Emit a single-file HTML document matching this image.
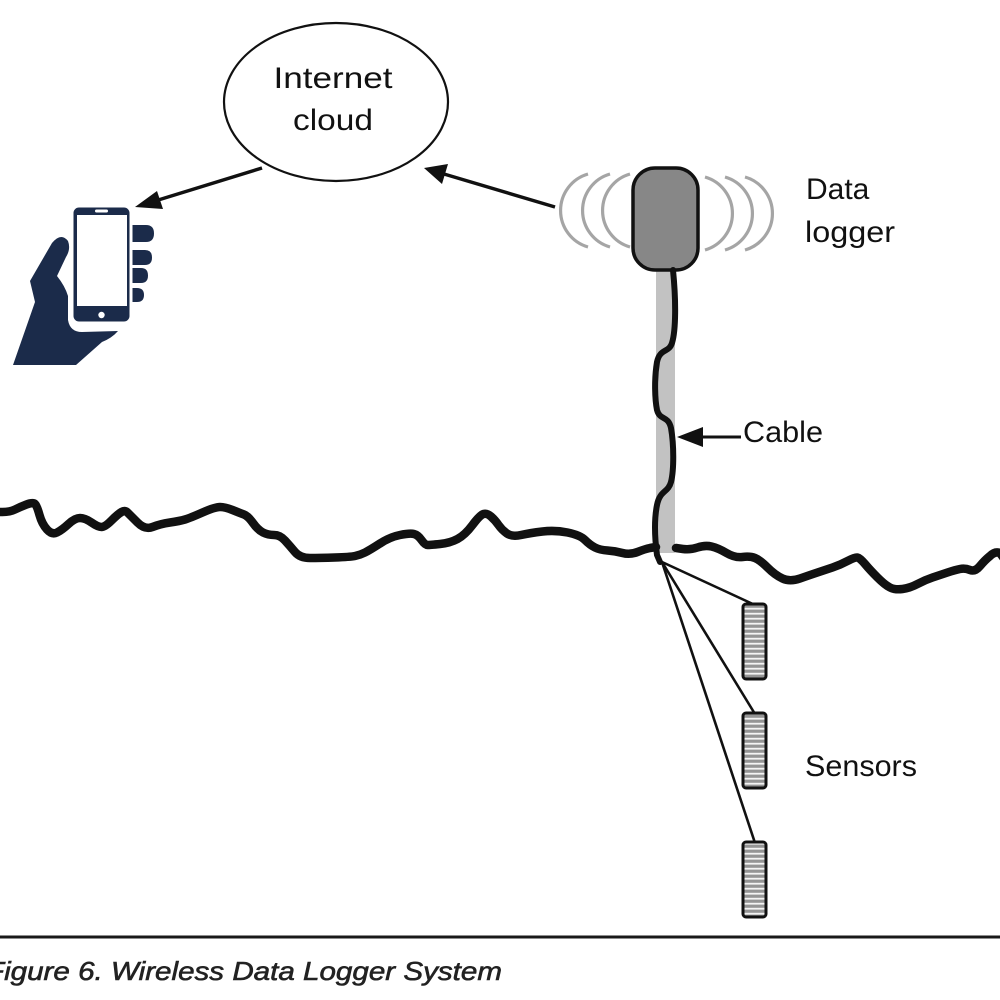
<!DOCTYPE html>
<html>
<head>
<meta charset="utf-8">
<style>
html,body{margin:0;padding:0;background:#fff;}
body{width:1000px;height:1000px;overflow:hidden;}
svg{display:block;}
text{font-family:"Liberation Sans",sans-serif;fill:#111;}
</style>
</head>
<body>
<svg width="1000" height="1000" viewBox="0 0 1000 1000" xmlns="http://www.w3.org/2000/svg">
<defs>
  <pattern id="stripes" x="0" y="0" width="10" height="5" patternUnits="userSpaceOnUse">
    <rect x="0" y="0" width="10" height="5" fill="#959595"/>
    <rect x="0" y="2.8" width="10" height="1.8" fill="#f4f4f4"/>
  </pattern>
</defs>

<!-- Internet cloud ellipse -->
<ellipse cx="336" cy="102" rx="112" ry="79" fill="#fff" stroke="#111" stroke-width="2.2"/>
<text x="333" y="88" font-size="30" text-anchor="middle" textLength="119" lengthAdjust="spacingAndGlyphs">Internet</text>
<text x="333" y="130" font-size="30" text-anchor="middle" textLength="80" lengthAdjust="spacingAndGlyphs">cloud</text>

<!-- Arrow cloud -> phone -->
<line x1="262" y1="168" x2="155" y2="201" stroke="#111" stroke-width="3.5"/>
<polygon points="135,207 157,191 163,209" fill="#111"/>

<!-- Arrow logger -> cloud -->
<line x1="555" y1="207" x2="444" y2="174" stroke="#111" stroke-width="3.5"/>
<polygon points="424,168 448,164 442,184" fill="#111"/>

<!-- Phone in hand -->
<g fill="#1b2b4a">
  <path d="M13,365 L35,302 L30,281 L52,243 Q61,232 68,241 Q71,249 66,257 L57,276 Q65,286 68,296 L68,320 Q70,332 82,332 L118,331 Q112,338 102,342 L76,365 Z"/>
  <path d="M129,225 L146,225 Q154,225 154,233.5 Q154,242 146,242 L129,242 Z"/>
  <path d="M129,250 L145,250 Q152,250 152,257.5 Q152,265 145,265 L129,265 Z"/>
  <path d="M129,268 L141,268 Q148,268 148,275.5 Q148,283 141,283 L129,283 Z"/>
  <path d="M129,288 L137,288 Q144,288 144,295 Q144,302 137,302 L129,302 Z"/>
  <rect x="72" y="206" width="59" height="117" rx="7" ry="7" stroke="#fff" stroke-width="3"/>
</g>
<rect x="77" y="215" width="50" height="91" fill="#fff"/>
<rect x="95" y="209.5" width="13" height="3" rx="1.5" fill="#fff"/>
<circle cx="101.5" cy="315" r="3.2" fill="#fff"/>

<!-- Signal arcs -->
<g fill="none" stroke="#a5a5a5" stroke-width="3.2">
  <path d="M588,174 A38,38 0 0 0 588,247"/>
  <path d="M610,174 A38,38 0 0 0 610,247"/>
  <path d="M630,174 A38,38 0 0 0 630,247"/>
  <path d="M705,177 A38,38 0 0 1 705,250"/>
  <path d="M725,177 A38,38 0 0 1 725,250"/>
  <path d="M745,177 A38,38 0 0 1 745,250"/>
</g>

<!-- gray cable sheath -->
<rect x="656" y="268" width="19" height="285" fill="#c2c2c2"/>

<!-- Data logger body -->
<rect x="633" y="168" width="65" height="102" rx="22" ry="22" fill="#878787" stroke="#111" stroke-width="3.5"/>
<text x="806" y="199" font-size="30">Data</text>
<text x="805" y="242" font-size="30" textLength="90" lengthAdjust="spacingAndGlyphs">logger</text>

<!-- Cable -->
<path d="M673,270 C676,300 676,330 672,343 C669,353 660,348 657,362 C654,380 655,400 657,410 C660,421 668,415 671,428 C674,445 674,470 671,482 C668,493 660,490 657,505 C654,520 655,540 657,555 L660,562" fill="none" stroke="#111" stroke-width="6" stroke-linecap="round" stroke-linejoin="round"/>

<!-- Cable label arrow -->
<line x1="741" y1="437" x2="700" y2="437" stroke="#111" stroke-width="3"/>
<polygon points="677,437 703,427 703,447" fill="#111"/>
<text x="743" y="442" font-size="30" textLength="80" lengthAdjust="spacingAndGlyphs">Cable</text>

<!-- Ground line -->
<path fill="none" stroke="#111" stroke-width="8.5" stroke-linejoin="round" stroke-linecap="round"
 d="M-5,512 L2.5,512 Q10,512 15,509.5 Q20,507 26.5,504.5 Q33,502 35,504 Q37,506 39.5,515 Q42,524 47,529.5 Q52,535 57,532.5 Q62,530 68.5,524 Q75,518 80,518 Q85,518 91.5,522.5 Q98,527 101.5,527 Q105,527 111.5,520.5 Q118,514 121.5,512 Q125,510 127.5,512.5 Q130,515 137.5,522.5 Q145,530 152.5,527 Q160,524 170,522.5 Q180,521 185,519.5 Q190,518 202.5,512.5 Q215,507 220,507 Q225,507 232.5,510 Q240,513 244,514.5 Q248,516 253,523 Q258,530 263,532.5 Q268,535 274,535 Q280,535 285,540.5 Q290,546 295,552 Q300,558 310,558 Q320,558 335,557.5 Q350,557 355,556 Q360,555 365,552.5 Q370,550 380,543.5 Q390,537 400,535 Q410,533 414,534 Q418,535 421.5,540 Q425,545 427.5,545 Q430,545 440,544 Q450,543 457.5,539 Q465,535 472.5,525 Q480,515 483.5,514 Q487,513 491,516.5 Q495,520 498.5,525 Q502,530 507,533.5 Q512,537 521,535 Q530,533 542.5,531.5 Q555,530 567.5,532.5 Q580,535 585,540 Q590,545 595,547.5 Q600,550 607.5,550.5 Q615,551 622.5,553 Q630,555 637.5,552 Q645,549 650,548 L656,547"/>
<path fill="none" stroke="#111" stroke-width="8.5" stroke-linejoin="round" stroke-linecap="round"
 d="M676,548 L683,549 Q690,550 697.5,547.5 Q705,545 711.5,546.5 Q718,548 726.5,553 Q735,558 742.5,557 Q750,556 755,558 Q760,560 767.5,567.5 Q775,575 782.5,578.5 Q790,582 800,578.5 Q810,575 817.5,572.5 Q825,570 832.5,567.5 Q840,565 847.5,561 Q855,557 857.5,557.5 Q860,558 865,564 Q870,570 877.5,577.5 Q885,585 890,587.5 Q895,590 902.5,589 Q910,588 917.5,584 Q925,580 932.5,577.5 Q940,575 947.5,572.5 Q955,570 960,569 Q965,568 970,570 Q975,572 980,566 Q985,560 990,556 Q995,551 1000,553 L1005,560"/>

<!-- Sensor wires -->
<g stroke="#111" stroke-width="2.6" fill="none">
  <line x1="662" y1="562" x2="755" y2="605"/>
  <line x1="662" y1="562" x2="755" y2="714"/>
  <line x1="662" y1="562" x2="755" y2="843"/>
</g>

<!-- Sensors -->
<g stroke="#111" stroke-width="3">
  <rect x="743" y="604" width="23" height="75" rx="3" fill="url(#stripes)"/>
  <rect x="743" y="713" width="23" height="75" rx="3" fill="url(#stripes)"/>
  <rect x="743" y="842" width="23" height="75" rx="3" fill="url(#stripes)"/>
</g>
<text x="805" y="776" font-size="30" textLength="112" lengthAdjust="spacingAndGlyphs">Sensors</text>

<!-- Caption rule -->
<rect x="0" y="935.5" width="1000" height="3" fill="#1a1a1a"/>
<text x="-14" y="980" font-size="26" font-style="italic" style="fill:#222;stroke:#222;stroke-width:0.6" textLength="516" lengthAdjust="spacingAndGlyphs">Figure 6. Wireless Data Logger System</text>
</svg>
</body>
</html>
